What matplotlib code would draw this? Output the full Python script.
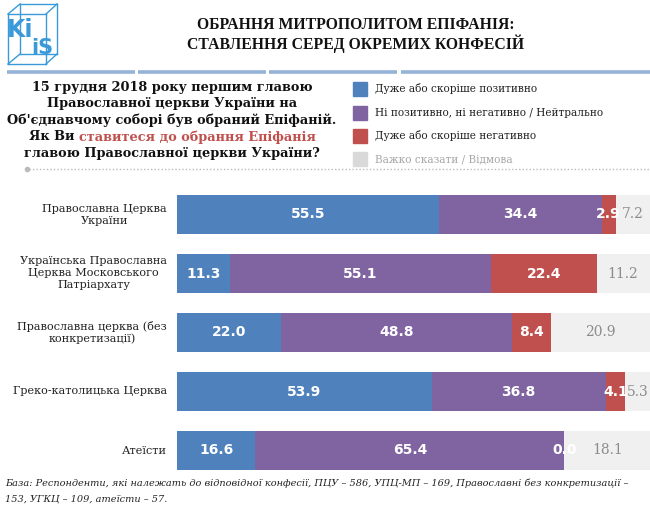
import matplotlib
matplotlib.use("Agg")
import matplotlib.pyplot as plt
from matplotlib.lines import Line2D
from matplotlib.patches import Rectangle

categories = [
    "Православна Церква\nУкраїни",
    "Українська Православна\nЦерква Московського\nПатріархату",
    "Православна церква (без\nконкретизації)",
    "Греко-католицька Церква",
    "Атеїсти",
]
positive = [55.5, 11.3, 22.0, 53.9, 16.6]
neutral = [34.4, 55.1, 48.8, 36.8, 65.4]
negative = [2.9, 22.4, 8.4, 4.1, 0.0]
hard_to_say = [7.2, 11.2, 20.9, 5.3, 18.1]

series_names = [
    "Дуже або скоріше позитивно",
    "Ні позитивно, ні негативно / Нейтрально",
    "Дуже або скоріше негативно",
    "Важко сказати / Відмова",
]
colors = ["#4F81BD", "#8064A2", "#C0504D", "#F0F0F0"]
series = [positive, neutral, negative, hard_to_say]

W, H = 650, 519
fig = plt.figure(figsize=(W / 100, H / 100), dpi=100)
fig.patch.set_facecolor("white")


def fx(px):
    return px / W


def fy(py):
    return 1 - py / H


# ---- logo ----
logo_col = "#3A9AD9"
def L(x0, y0, x1, y1, lw=1.0):
    fig.add_artist(Line2D([fx(x0), fx(x1)], [fy(y0), fy(y1)], color=logo_col, lw=lw))
# front square
L(8, 14, 46, 14); L(46, 14, 46, 64); L(46, 64, 8, 64); L(8, 64, 8, 14)
# back square
L(20, 4, 57, 4); L(57, 4, 57, 54); L(57, 54, 20, 54); L(20, 54, 20, 4)
L(8, 14, 20, 4); L(46, 14, 57, 4); L(46, 64, 57, 54); L(8, 64, 20, 54)
fig.text(fx(20), fy(30), "Ki", fontsize=17, fontweight="bold", color=logo_col,
         ha="center", va="center", family="DejaVu Sans")
fig.text(fx(42), fy(48), "iS", fontsize=15, fontweight="bold", color=logo_col,
         ha="center", va="center")

# ---- title ----
fig.text(fx(356), fy(25), "ОБРАННЯ МИТРОПОЛИТОМ ЕПІФАНІЯ:", fontsize=11.3,
         fontweight="bold", family="Liberation Serif", ha="center", va="center", color="#111111")
fig.text(fx(356), fy(44), "СТАВЛЕННЯ СЕРЕД ОКРЕМИХ КОНФЕСІЙ", fontsize=11.3,
         fontweight="bold", family="Liberation Serif", ha="center", va="center", color="#111111")

# ---- top dashed separator ----
for a, b in [(7, 135), (138, 266), (269, 397), (401, 650)]:
    fig.add_artist(Line2D([fx(a), fx(b)], [fy(72), fy(72)], color="#95B3D7", lw=2.6,
                          solid_capstyle="butt"))

# ---- question ----
qfont = dict(fontsize=9.3, fontweight="bold", family="DejaVu Serif", ha="center", va="center")
fig.text(fx(172), fy(88), "15 грудня 2018 року першим главою", color="#111111", **qfont)
fig.text(fx(172), fy(104), "Православної церкви України на", color="#111111", **qfont)
fig.text(fx(172), fy(120), "Об'єднавчому соборі був обраний Епіфаній.", color="#111111", **qfont)
fig.text(fx(172), fy(153), "главою Православної церкви України?", color="#111111", **qfont)
# mixed-colour line
t1 = fig.text(fx(30), fy(137), "Як Ви ", color="#111111",
              **{**qfont, "ha": "left"})
fig.canvas.draw()
r = fig.canvas.get_renderer()
bb = t1.get_window_extent(renderer=r)
t2 = fig.text(0, 0, "ставитеся до обрання Епіфанія", color="#C0504D",
              **{**qfont, "ha": "left"})
bb2 = t2.get_window_extent(renderer=r)
total = bb.width + bb2.width
start = 172 - total / 2
t1.set_position((fx(start), fy(137)))
t2.set_position((fx(start + bb.width), fy(137)))

# ---- legend ----
ly = [89, 113, 136, 159]
for i, (name, c) in enumerate(zip(series_names, colors)):
    c_sq = "#D9D9D9" if i == 3 else c
    fig.add_artist(Rectangle((fx(353), fy(ly[i] + 7)), fx(14), 14 / H, color=c_sq,
                             transform=fig.transFigure))
    fig.text(fx(375), fy(ly[i]), name, fontsize=7.6, family="DejaVu Serif",
             color="#A6A6A6" if i == 3 else "#222222", va="center", ha="left")

# dotted separator
fig.add_artist(Line2D([fx(29), fx(650)], [fy(169), fy(169)], color="#BBBBBB", lw=1.0,
                      linestyle=(0, (1, 1.5))))
fig.add_artist(Line2D([fx(27)], [fy(169)], marker="o", markersize=3, color="#BBBBBB"))

# ---- bars ----
ax = fig.add_axes([fx(177), fy(480), fx(650) - fx(177), (480 - 185) / H])
ax.set_xlim(0, 100.1)
ax.set_ylim(len(categories) - 0.5, -0.5)
ypos = list(range(len(categories)))
left = [0.0] * len(categories)
for k, (vals, c) in enumerate(zip(series, colors)):
    ax.barh(ypos, vals, left=left, height=0.66, color=c, edgecolor="none")
    for i, v in enumerate(vals):
        cx = left[i] + v / 2
        if k == 3:
            ax.text(cx, i, f"{v:.1f}", color="#8C8C8C", fontsize=10, family="DejaVu Serif",
                    ha="center", va="center")
        else:
            ax.text(cx, i, f"{v:.1f}", color="white", fontsize=10, fontweight="bold",
                    family="DejaVu Sans", ha="center", va="center")
    left = [l + v for l, v in zip(left, vals)]
ax.axis("off")

# category labels: right edge at ~167 px
label_x = -(177 - 167) / ((650 - 177) / 100.1)
for i, cat in enumerate(categories):
    ax.text(label_x, i, cat, ha="right", va="center", fontsize=8.1, family="DejaVu Serif",
            color="#222222", multialignment="center", linespacing=1.25)

# ---- footnote ----
fig.text(fx(5), fy(483), "База: Респонденти, які належать до відповідної конфесії, ПЦУ – 586, УПЦ-МП – 169, Православні без конкретизації –",
         fontsize=7.05, style="italic", family="DejaVu Serif", color="#222222", va="center")
fig.text(fx(5), fy(499), "153, УГКЦ – 109, атеїсти – 57.",
         fontsize=7.05, style="italic", family="DejaVu Serif", color="#222222", va="center")

fig.savefig("out.png", dpi=100)
